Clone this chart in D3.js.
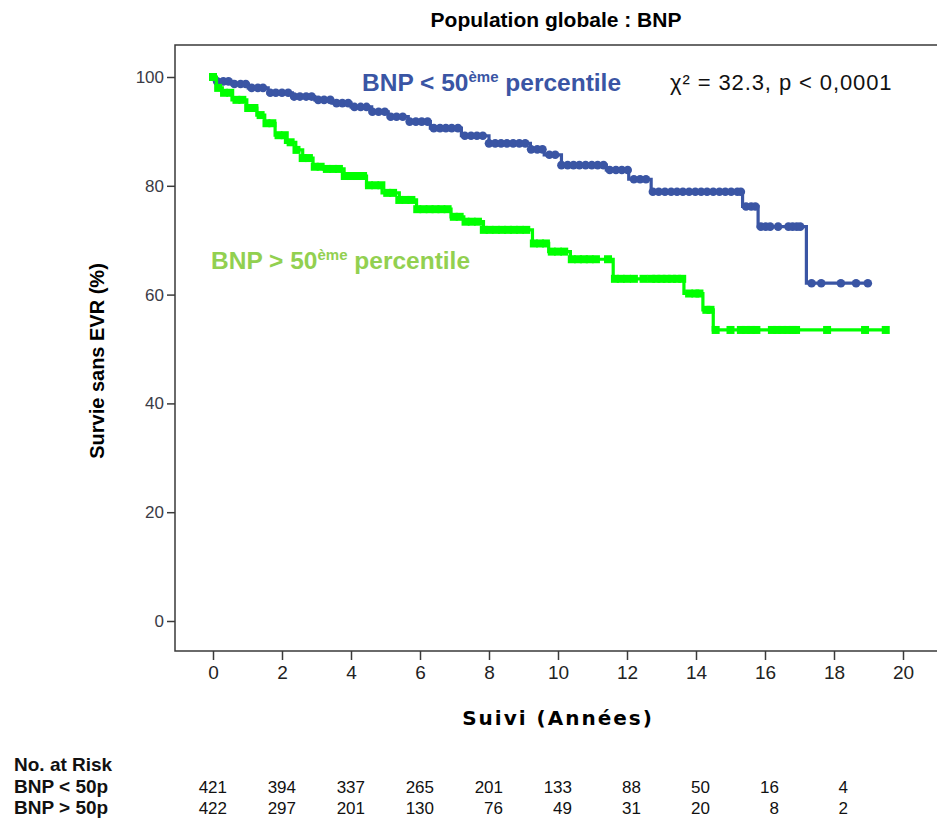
<!DOCTYPE html>
<html>
<head>
<meta charset="utf-8">
<script src="https://cdn.jsdelivr.net/npm/d3@7"></script>
<style>
  html, body { margin: 0; padding: 0; background: #fff; }
  svg { display: block; }
</style>
</head>
<body>
<svg id="chart" width="937" height="821"></svg>
<script>
// Kaplan-Meier survival free of EVR, split by BNP median
const xTicks = [0, 2, 4, 6, 8, 10, 12, 14, 16, 18, 20];
const yTicks = [0, 20, 40, 60, 80, 100];

// Low BNP group: step times (years) and survival (%)
const lowTimes = [0, 0.06, 0.55, 1.02, 1.6, 2.3, 2.95, 3.45, 4.0, 4.6, 5.08, 5.66, 6.3, 7.2, 8.0, 9.2, 9.6, 10.1, 11.4, 12.05, 12.7, 15.35, 15.8, 17.2];
const lowSurv  = [100, 99.2, 98.7, 98.0, 97.1, 96.4, 95.8, 95.2, 94.5, 93.6, 92.7, 91.8, 90.6, 89.2, 87.8, 86.7, 85.7, 83.8, 82.9, 81.2, 78.9, 76.2, 72.5, 62.1];
const lowEnd = 19.0;
const lowCensor = [0.12, 0.3, 0.45, 0.62, 0.8, 0.95, 1.12, 1.3, 1.45, 1.66, 1.82, 2.0, 2.18, 2.35, 2.52, 2.7, 2.86, 3.05, 3.22, 3.4, 3.58, 3.75, 3.92, 4.1, 4.28, 4.45, 4.62, 4.8, 4.98, 5.15, 5.32, 5.5, 5.7, 5.88, 6.05, 6.22, 6.4, 6.58, 6.75, 6.92, 7.1, 7.3, 7.48, 7.65, 7.82, 8.0, 8.18, 8.35, 8.52, 8.7, 8.88, 9.05, 9.22, 9.4, 9.55, 9.75, 9.92, 10.1, 10.28, 10.45, 10.62, 10.8, 10.98, 11.15, 11.32, 11.5, 11.68, 11.85, 12.02, 12.2, 12.38, 12.55, 12.75, 12.92, 13.1, 13.28, 13.45, 13.62, 13.8, 13.98, 14.15, 14.32, 14.5, 14.68, 14.85, 15.02, 15.2, 15.3, 15.45, 15.6, 15.72, 15.88, 16.02, 16.15, 16.38, 16.68, 16.8, 16.92, 17.02, 17.35, 17.63, 18.2, 18.64, 18.98];

// High BNP group
const highTimes = [0, 0.1, 0.27, 0.55, 0.98, 1.27, 1.5, 1.8, 2.1, 2.4, 2.6, 2.9, 3.2, 3.8, 4.45, 4.9, 5.4, 5.9, 6.9, 7.27, 7.84, 9.26, 9.73, 10.36, 11.6, 13.65, 14.2, 14.5];
const highSurv  = [100, 98.0, 97.1, 95.8, 94.3, 93.0, 91.5, 89.3, 88.0, 86.6, 85.1, 83.5, 83.1, 81.8, 80.1, 78.7, 77.4, 75.7, 74.3, 73.4, 71.9, 69.4, 67.9, 66.5, 62.9, 60.2, 57.2, 53.5];
const highEnd = 19.5;
const highCensor = [0, 0.15, 0.32, 0.5, 0.68, 0.85, 1.02, 1.2, 1.38, 1.55, 1.72, 1.9, 2.08, 2.25, 2.42, 2.6, 2.78, 2.95, 3.12, 3.3, 3.48, 3.65, 3.82, 4.0, 4.18, 4.35, 4.52, 4.7, 4.88, 5.05, 5.22, 5.4, 5.58, 5.75, 5.92, 6.1, 6.28, 6.45, 6.62, 6.8, 6.98, 7.15, 7.32, 7.5, 7.68, 7.85, 8.02, 8.2, 8.38, 8.55, 8.72, 8.9, 9.08, 9.3, 9.48, 9.65, 9.82, 10.0, 10.18, 10.4, 10.58, 10.75, 10.92, 11.1, 11.45, 11.65, 11.82, 12.0, 12.2, 12.48, 12.7, 12.85, 13.0, 13.15, 13.3, 13.45, 13.6, 13.8, 13.98, 14.1, 14.3, 14.42, 14.57, 15.0, 15.3, 15.45, 15.6, 15.75, 16.2, 16.35, 16.5, 16.65, 16.8, 16.9, 17.8, 18.9, 19.5];

// Numbers at risk
const riskTimes = [0, 2, 4, 6, 8, 10, 12, 14, 16, 18];
const riskLow  = [421, 394, 337, 265, 201, 133, 88, 50, 16, 4];
const riskHigh = [422, 297, 201, 130, 76, 49, 31, 20, 8, 2];

const blue = "#3a55a4";
const green = "#00ff00";
const greenLabel = "#92d050";
const axisCol = "#3a3a3a";
const sans = "'Liberation Sans', Arial, sans-serif";

const svg = d3.select("#chart");
const x = d3.scaleLinear().domain([0, 20]).range([213, 903]);
const y = d3.scaleLinear().domain([0, 100]).range([621, 77]);

const frameLeft = 175, frameTop = 45, frameBottom = 651, frameRight = 937;

// Title
svg.append("text").attr("x", 556).attr("y", 27).attr("text-anchor", "middle")
  .attr("font-family", sans).attr("font-weight", "bold").attr("font-size", 21)
  .text("Population globale : BNP");

// Frame lines
svg.append("path")
  .attr("d", `M${frameRight},${frameTop}H${frameLeft}V${frameBottom}H${frameRight}`)
  .attr("stroke", axisCol).attr("stroke-width", 1.5).attr("fill", "none");

// Y axis
const yAxis = svg.append("g").attr("transform", `translate(${frameLeft},0)`)
  .call(d3.axisLeft(y).tickValues(yTicks).tickSize(8).tickPadding(3));
yAxis.select(".domain").remove();
yAxis.selectAll("line").attr("stroke", axisCol).attr("stroke-width", 1.5);
yAxis.selectAll("text").attr("font-family", sans).attr("font-size", 17).attr("fill", "#3b3b45");

// X axis
const xAxis = svg.append("g").attr("transform", `translate(0,${frameBottom})`)
  .call(d3.axisBottom(x).tickValues(xTicks).tickSize(9).tickPadding(6));
xAxis.select(".domain").remove();
xAxis.selectAll("line").attr("stroke", axisCol).attr("stroke-width", 1.5);
xAxis.selectAll("text").attr("font-family", sans).attr("font-size", 19).attr("fill", "#222");

// Axis titles
svg.append("text").attr("transform", "translate(104,361) rotate(-90)").attr("text-anchor", "middle")
  .attr("font-family", sans).attr("font-weight", "bold").attr("font-size", 20)
  .text("Survie sans EVR (%)");
svg.append("text").attr("x", 558).attr("y", 725).attr("text-anchor", "middle")
  .attr("font-family", "'DejaVu Sans', sans-serif").attr("font-weight", "bold").attr("font-size", 20)
  .attr("letter-spacing", 2)
  .text("Suivi (Années)");

// Survival step curves
function stepPoints(times, surv, end) {
  const pts = times.map((t, i) => [t, surv[i]]);
  pts.push([end, surv[surv.length - 1]]);
  return pts;
}
function survAt(times, surv, t) {
  const i = d3.bisectRight(times, t) - 1;
  return surv[Math.max(0, i)];
}
const line = d3.line().x(d => x(d[0])).y(d => y(d[1])).curve(d3.curveStepAfter);

const gLow = svg.append("g");
gLow.append("path").datum(stepPoints(lowTimes, lowSurv, lowEnd))
  .attr("d", line).attr("fill", "none").attr("stroke", blue).attr("stroke-width", 3.2);
gLow.selectAll("circle").data(lowCensor).join("circle")
  .attr("cx", d => x(d)).attr("cy", d => y(survAt(lowTimes, lowSurv, d)))
  .attr("r", 4.3).attr("fill", blue);

const gHigh = svg.append("g");
gHigh.append("path").datum(stepPoints(highTimes, highSurv, highEnd))
  .attr("d", line).attr("fill", "none").attr("stroke", green).attr("stroke-width", 3.2);
gHigh.selectAll("rect").data(highCensor).join("rect")
  .attr("x", d => x(d) - 4).attr("y", d => y(survAt(highTimes, highSurv, d)) - 4)
  .attr("width", 8).attr("height", 8).attr("fill", green);

// Group labels
function groupLabel(xp, yp, sign, color) {
  const t = svg.append("text").attr("x", xp).attr("y", yp)
    .attr("font-family", sans).attr("font-weight", "bold").attr("font-size", 24.5).attr("fill", color);
  t.append("tspan").text(`BNP ${sign} 50`);
  t.append("tspan").attr("dy", -9).attr("font-size", 15).text("ème");
  t.append("tspan").attr("dy", 9).text(" percentile");
}
groupLabel(362, 91, "<", blue);
groupLabel(211, 269, ">", greenLabel);

svg.append("text").attr("x", 670).attr("y", 90)
  .attr("font-family", sans).attr("font-size", 22).attr("letter-spacing", 0.9).attr("fill", "#111")
  .text("χ² = 32.3, p < 0,0001");

// Numbers at risk table
const tbl = svg.append("g").attr("font-family", sans).attr("font-size", 17).attr("fill", "#111");
const lbl = tbl.append("g").attr("font-weight", "bold").attr("font-size", 19);
lbl.append("text").attr("x", 14).attr("y", 771).text("No. at Risk");
lbl.append("text").attr("x", 14).attr("y", 793).text("BNP < 50p");
lbl.append("text").attr("x", 14).attr("y", 814).text("BNP > 50p");
tbl.selectAll("text.low").data(riskLow).join("text").attr("class", "low")
  .attr("x", (d, i) => x(riskTimes[i]) + 14).attr("y", 793).attr("text-anchor", "end").text(d => d);
tbl.selectAll("text.high").data(riskHigh).join("text").attr("class", "high")
  .attr("x", (d, i) => x(riskTimes[i]) + 14).attr("y", 814).attr("text-anchor", "end").text(d => d);
</script>
</body>
</html>
